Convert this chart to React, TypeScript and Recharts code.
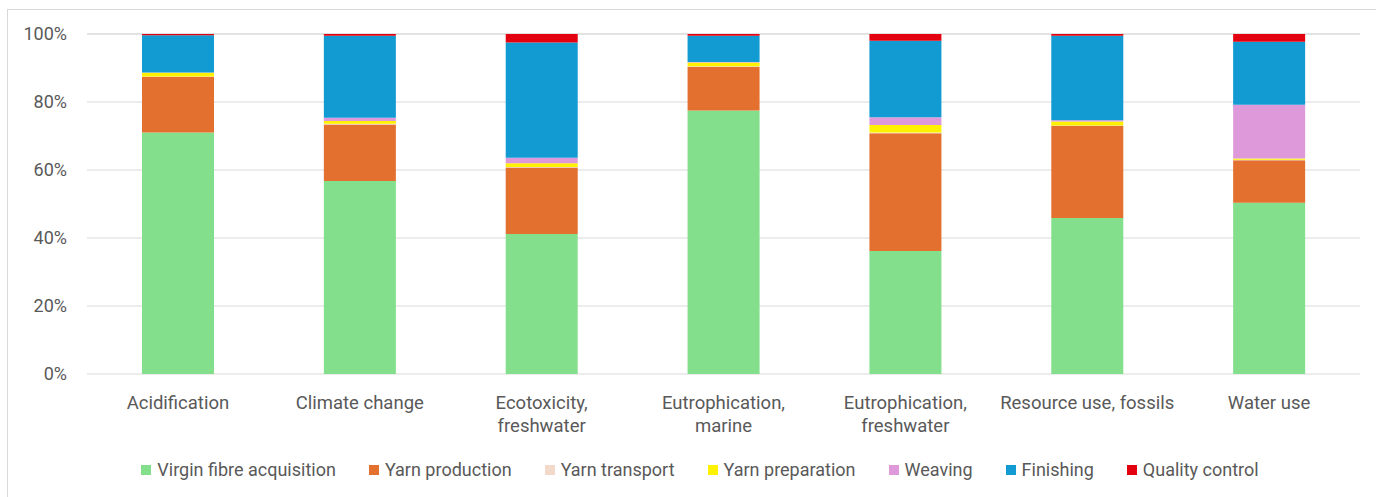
import { BarChart, Bar, XAxis, YAxis, CartesianGrid, Legend } from "recharts";

// impact categories (x axis)
const categories = [
  "Acidification",
  "Climate change",
  "Ecotoxicity, freshwater",
  "Eutrophication, marine",
  "Eutrophication, freshwater",
  "Resource use, fossils",
  "Water use",
];

// how each category label wraps under the axis
const tickLines: Record<string, string[]> = {
  "Acidification": ["Acidification"],
  "Climate change": ["Climate change"],
  "Ecotoxicity, freshwater": ["Ecotoxicity,", "freshwater"],
  "Eutrophication, marine": ["Eutrophication,", "marine"],
  "Eutrophication, freshwater": ["Eutrophication,", "freshwater"],
  "Resource use, fossils": ["Resource use, fossils"],
  "Water use": ["Water use"],
};

// share of each life-cycle stage, %
const virginFibre     = [71.0, 56.8, 41.2, 77.5, 36.2, 45.9, 50.4];
const yarnProduction  = [16.4, 16.6, 19.5, 12.9, 34.6, 27.1, 12.5];
const yarnTransport   = [0.1, 0.2, 0.2, 0.1, 0.2, 0.1, 0.1];
const yarnPreparation = [1.1, 0.8, 1.1, 1.1, 2.2, 1.2, 0.4];
const weaving         = [0.1, 1.0, 1.6, 0.2, 2.3, 0.3, 15.8];
const finishing       = [10.9, 24.1, 33.9, 7.7, 22.5, 24.9, 18.5];
const qualityControl  = [0.4, 0.5, 2.5, 0.5, 2.0, 0.5, 2.3];

const yTicks = [0, 20, 40, 60, 80, 100];

const SERIES = [
  { key: "virgin", name: "Virgin fibre acquisition", values: virginFibre, color: "#83DF8B" },
  { key: "yarnProd", name: "Yarn production", values: yarnProduction, color: "#E3702F" },
  { key: "yarnTransport", name: "Yarn transport", values: yarnTransport, color: "#F3D9CA" },
  { key: "yarnPrep", name: "Yarn preparation", values: yarnPreparation, color: "#FFF200" },
  { key: "weaving", name: "Weaving", values: weaving, color: "#DE99DB" },
  { key: "finishing", name: "Finishing", values: finishing, color: "#129AD2" },
  { key: "quality", name: "Quality control", values: qualityControl, color: "#E3000F" },
];

const data = categories.map((c, i) => {
  const row: any = { category: c };
  SERIES.forEach(s => { row[s.key] = s.values[i]; });
  return row;
});

const FONT = "Roboto, 'Liberation Sans', Arial, sans-serif";
const TEXT = "#595959";

// ─── X tick with manual wrapping ─────────────────────────────────────────────
const CategoryTick = ({ x, y, payload }: any) => {
  const lines = tickLines[payload.value] || [payload.value];
  return (
    <text x={x} y={y} textAnchor="middle" fill={TEXT} fontSize={18.5} fontFamily={FONT}>
      {lines.map((l, i) => (
        <tspan key={i} x={x} dy={i === 0 ? 33 : 23}>{l}</tspan>
      ))}
    </text>
  );
};

// ─── Legend (kept in series order) ───────────────────────────────────────────
const LegendContent = ({ payload }: any) => {
  const items = SERIES.map(s => (payload || []).find((p: any) => p.value === s.name)).filter(Boolean);
  return (
    <div style={{ display: "flex", justifyContent: "center", gap: 33, paddingLeft: 24, fontFamily: FONT, fontSize: 18, color: TEXT }}>
      {items.map((p: any) => (
        <span key={p.value} style={{ display: "flex", alignItems: "center", gap: 6, whiteSpace: "nowrap" }}>
          <span style={{ width: 10, height: 10, background: p.color, display: "inline-block" }} />
          {p.value}
        </span>
      ))}
    </div>
  );
};

export default function App() {
  return (
    <div style={{ position: "fixed", left: 0, top: 0, width: 1376, height: 497, overflow: "hidden", background: "#fff" }}>
      <div style={{ position: "absolute", left: 7, top: 9, width: 1420, height: 540, border: "1px solid #D9D9D9" }} />
      <div style={{ position: "absolute", left: 0, top: 0 }}>
        <BarChart width={1376} height={497} data={data} margin={{ top: 34, right: 16, left: 7, bottom: 63 }} barSize={72}>
          <CartesianGrid vertical={false} stroke="#D9D9D9" />
          <XAxis dataKey="category" axisLine={false} tickLine={false} tickSize={0} height={60} interval={0} tick={<CategoryTick />} />
          <YAxis
            domain={[0, 100]} ticks={yTicks} width={80} axisLine={false} tickLine={false} tickSize={0} tickMargin={20}
            tickFormatter={v => `${v}%`} tick={{ fontSize: 18, fill: TEXT, fontFamily: FONT }}
          />
          <Legend layout="horizontal" verticalAlign="middle" align="center" content={<LegendContent />}
            wrapperStyle={{ top: 459, left: 0, width: 1376 }} />
          {SERIES.map(s => (
            <Bar key={s.key} dataKey={s.key} name={s.name} stackId="a" fill={s.color} isAnimationActive={false} />
          ))}
        </BarChart>
      </div>
    </div>
  );
}
